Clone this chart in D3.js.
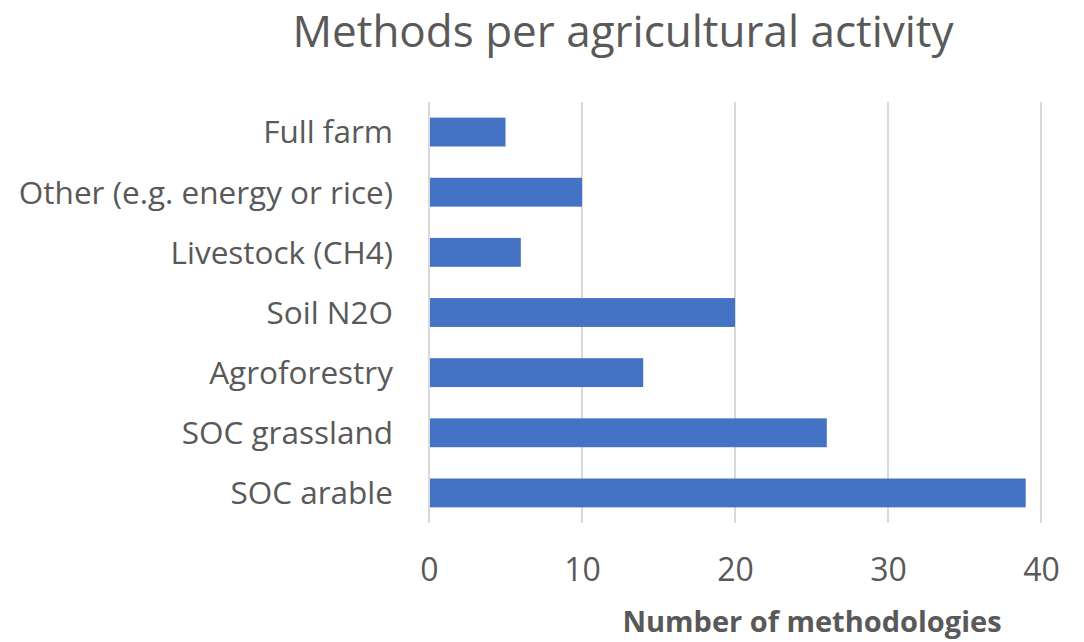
<!DOCTYPE html>
<html>
<head>
<meta charset="utf-8">
<script src="https://cdn.jsdelivr.net/npm/d3@7"></script>
<style>
  html, body { margin: 0; padding: 0; background: #fff; }
  svg { display: block; }
  text { font-family: "Open Sans", "Noto Sans", sans-serif; }
</style>
</head>
<body>
<svg id="chart" width="1084" height="642"></svg>
<script>
// Number of methodologies for each agricultural activity (top to bottom)
const categories = [
  "Full farm",
  "Other (e.g. energy or rice)",
  "Livestock (CH4)",
  "Soil N2O",
  "Agroforestry",
  "SOC grassland",
  "SOC arable"
];
const methodCounts = [5, 10, 6, 20, 14, 26, 39];
const xTicks = [0, 10, 20, 30, 40];

const chartTitle = "Methods per agricultural activity";
const xAxisTitle = "Number of methodologies";

const svg = d3.select("#chart");
const margin = { top: 102, right: 43, bottom: 119, left: 429 };
const width = 1084, height = 642;
const textColor = "#595959";

const x = d3.scaleLinear()
  .domain([0, 40])
  .range([margin.left, width - margin.right]);

const y = d3.scaleBand()
  .domain(categories)
  .range([margin.top, height - margin.bottom])
  .paddingInner(0.52)
  .paddingOuter(0.26);

// vertical gridlines
svg.append("g")
  .selectAll("line")
  .data(xTicks)
  .join("line")
  .attr("x1", d => x(d))
  .attr("x2", d => x(d))
  .attr("y1", margin.top)
  .attr("y2", height - margin.bottom)
  .attr("stroke", "#d9d9d9")
  .attr("stroke-width", 2);

// bars
svg.append("g")
  .selectAll("rect")
  .data(categories)
  .join("rect")
  .attr("x", x(0) + 1)
  .attr("y", d => y(d))
  .attr("width", (d, i) => x(methodCounts[i]) - x(0) - 1)
  .attr("height", y.bandwidth())
  .attr("fill", "#4472c4");

// x axis tick labels
const xAxis = d3.axisBottom(x).tickValues(xTicks).tickSize(0).tickPadding(0);
const gx = svg.append("g")
  .attr("transform", "translate(0, 581)")
  .call(xAxis);
gx.select(".domain").remove();
gx.selectAll("text")
  .attr("fill", textColor)
  .attr("font-size", 32)
  .attr("dy", 0);

// category labels
const yAxis = d3.axisLeft(y).tickSize(0).tickPadding(36);
const gy = svg.append("g")
  .attr("transform", `translate(${margin.left}, 0)`)
  .call(yAxis);
gy.select(".domain").remove();
gy.selectAll("text")
  .attr("fill", textColor)
  .attr("font-size", 31.5)
  .attr("dy", "0.36em");

// chart title
svg.append("text")
  .attr("x", 623)
  .attr("y", 47)
  .attr("text-anchor", "middle")
  .attr("fill", textColor)
  .attr("font-size", 44)
  .text(chartTitle);

// axis title
svg.append("text")
  .attr("x", 812)
  .attr("y", 632)
  .attr("text-anchor", "middle")
  .attr("fill", textColor)
  .attr("font-size", 29)
  .attr("font-weight", "bold")
  .text(xAxisTitle);
</script>
</body>
</html>
